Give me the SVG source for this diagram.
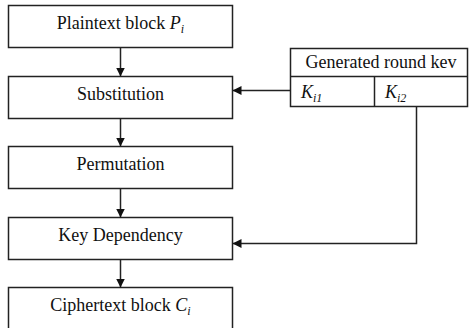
<svg xmlns="http://www.w3.org/2000/svg" width="469" height="328" viewBox="0 0 469 328">
<style>
  .box { fill: #ffffff; stroke: #222222; stroke-width: 1.5; }
  .lbl { font-family: 'Liberation Serif', 'DejaVu Serif', serif; font-size: 18px; fill: #111111; text-anchor: middle; }
  .kl { font-family: 'Liberation Serif', 'DejaVu Serif', serif; font-size: 18px; fill: #111111; font-style: italic; }
  .sub { font-size: 12px; font-style: italic; }
  .con { fill: none; stroke: #222222; stroke-width: 1.5; }
</style>
<defs>
  <marker id="arr" viewBox="0 0 10 10" refX="10" refY="5" markerUnits="userSpaceOnUse" markerWidth="9" markerHeight="9" orient="auto">
    <path d="M0,0 L10,5 L0,10 z" fill="#111111"/>
  </marker>
</defs>
<rect x="0" y="0" width="469" height="328" fill="#ffffff"/>

<g id="plaintext">
  <rect class="box" x="8.5" y="5.5" width="224" height="42"/>
  <text class="lbl" x="120.5" y="28.5" font-family="Liberation Serif, serif">Plaintext block <tspan font-style="italic">P</tspan><tspan class="sub" dy="4">i</tspan></text>
</g>
<g id="substitution">
  <rect class="box" x="8.5" y="76.5" width="224" height="42"/>
  <text class="lbl" x="120.5" y="99.5">Substitution</text>
</g>
<g id="permutation">
  <rect class="box" x="8.5" y="146.5" width="224" height="42"/>
  <text class="lbl" x="120.5" y="169.5">Permutation</text>
</g>
<g id="keydependency">
  <rect class="box" x="8.5" y="217.5" width="224" height="42"/>
  <text class="lbl" x="120.5" y="240.5">Key Dependency</text>
</g>
<g id="ciphertext">
  <rect class="box" x="8.5" y="287.5" width="224" height="50"/>
  <text class="lbl" x="120.5" y="310.5">Ciphertext block <tspan font-style="italic">C</tspan><tspan class="sub" dy="4">i</tspan></text>
</g>
<g id="roundkey">
  <rect class="box" x="290.5" y="48.5" width="177" height="58"/>
  <line class="con" x1="290.5" y1="76.5" x2="467.5" y2="76.5"/>
  <line class="con" x1="374.5" y1="76.5" x2="374.5" y2="106.5"/>
  <text class="lbl" x="381" y="68">Generated round kev</text>
  <text class="kl" x="301" y="98">K<tspan class="sub" dy="4">i1</tspan></text>
  <text class="kl" x="385" y="98">K<tspan class="sub" dy="4">i2</tspan></text>
</g>

<g id="connectors">
  <line class="con" x1="120.5" y1="47.5" x2="120.5" y2="76.5" marker-end="url(#arr)"/>
  <line class="con" x1="120.5" y1="118.5" x2="120.5" y2="146.5" marker-end="url(#arr)"/>
  <line class="con" x1="120.5" y1="188.5" x2="120.5" y2="217.5" marker-end="url(#arr)"/>
  <line class="con" x1="120.5" y1="259.5" x2="120.5" y2="287.5" marker-end="url(#arr)"/>
  <line class="con" x1="290.5" y1="90.5" x2="232.5" y2="90.5" marker-end="url(#arr)"/>
  <polyline class="con" points="416.5,106.5 416.5,243.5 232.5,243.5" marker-end="url(#arr)"/>
</g>
</svg>
